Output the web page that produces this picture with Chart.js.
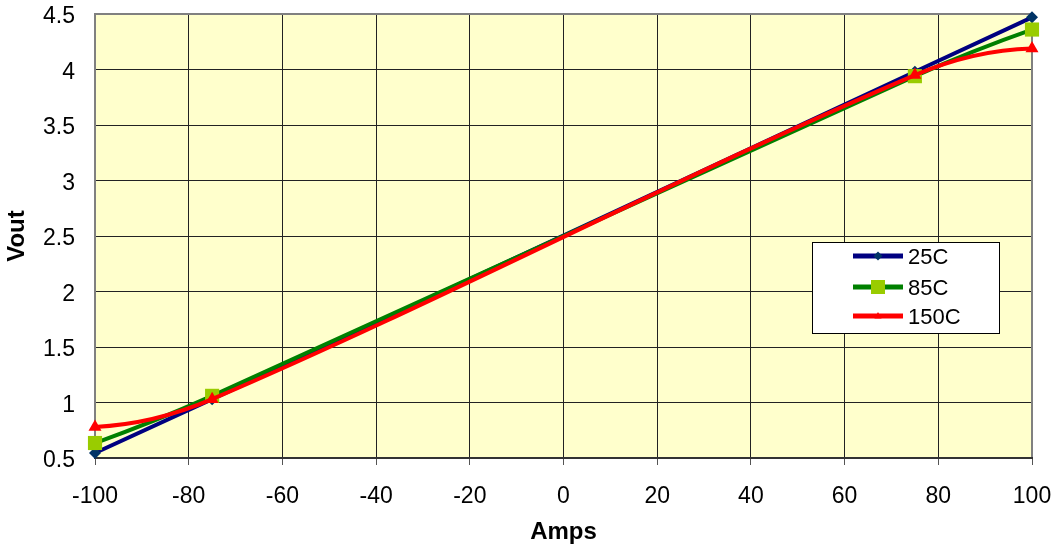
<!DOCTYPE html>
<html>
<head>
<meta charset="utf-8">
<script src="https://cdn.jsdelivr.net/npm/chart.js@4.4.1/dist/chart.umd.min.js"></script>
<style>
  html, body { margin: 0; padding: 0; background: #ffffff; }
  #wrap { width: 1055px; height: 548px; position: relative; }
</style>
</head>
<body>
<div id="wrap"><canvas id="c" width="1055" height="548"></canvas></div>
<script>
// ---- data ----
const amps = [-100, -75, 75, 100];
const vout25 = [0.545, 1.03, 3.98, 4.47];
const vout85 = [0.635, 1.06, 3.94, 4.36];
const vout150 = [0.78, 1.03, 3.95, 4.19];
const seriesLabels = ['25C', '85C', '150C'];
const xTickLabels = ['-100', '-80', '-60', '-40', '-20', '0', '20', '40', '60', '80', '100'];
const yTickLabels = ['0.5', '1', '1.5', '2', '2.5', '3', '3.5', '4', '4.5'];

function pts(xs, ys) { return xs.map((x, i) => ({ x: x, y: ys[i] })); }

const FONT = 'Arial, "Liberation Sans", sans-serif';
Chart.defaults.font.family = FONT;
Chart.defaults.color = '#000';

function drawMarker(ctx, style, x, y, r, fill) {
  ctx.save();
  ctx.fillStyle = fill;
  ctx.beginPath();
  if (style === 'rectRot') {
    ctx.moveTo(x, y - r); ctx.lineTo(x + r, y); ctx.lineTo(x, y + r); ctx.lineTo(x - r, y);
  } else if (style === 'rect') {
    ctx.rect(x - r, y - r, 2 * r, 2 * r);
  } else {
    ctx.moveTo(x, y - r); ctx.lineTo(x + r * 0.9, y + r * 0.6); ctx.lineTo(x - r * 0.9, y + r * 0.6);
  }
  ctx.closePath();
  ctx.fill();
  ctx.restore();
}

// Excel-like smoothing: cardinal tangents in x, end tangents mirrored
const smoothLine = {
  id: 'smoothLine',
  beforeDatasetDraw(chart, args) {
    try {
      const meta = args.meta;
      const p = meta.data;
      const n = p.length;
      if (n < 3) return;
      const m = new Array(n);
      for (let i = 1; i < n - 1; i++) {
        m[i] = (p[i + 1].y - p[i - 1].y) / (p[i + 1].x - p[i - 1].x);
      }
      const s0 = (p[1].y - p[0].y) / (p[1].x - p[0].x);
      const sn = (p[n - 1].y - p[n - 2].y) / (p[n - 1].x - p[n - 2].x);
      m[0] = 2 * s0 - m[1];
      m[n - 1] = 2 * sn - m[n - 2];
      for (let i = 0; i < n; i++) {
        const hPrev = i > 0 ? (p[i].x - p[i - 1].x) / 3 : 0;
        const hNext = i < n - 1 ? (p[i + 1].x - p[i].x) / 3 : 0;
        p[i].cp1x = p[i].x - hPrev; p[i].cp1y = p[i].y - m[i] * hPrev;
        p[i].cp2x = p[i].x + hNext; p[i].cp2y = p[i].y + m[i] * hNext;
      }
      meta.dataset._pointsUpdated = true;
      meta.dataset._path = undefined;
    } catch (e) { /* fall back to default curve */ }
  }
};

const plotBg = {
  id: 'plotBg',
  beforeDraw(chart) {
    const { ctx, chartArea: a } = chart;
    ctx.save();
    ctx.fillStyle = '#FFFFCC';
    ctx.fillRect(a.left, a.top, a.right - a.left, a.bottom - a.top);
    ctx.restore();
  },
  beforeDatasetsDraw(chart) {
    const { ctx, chartArea: a } = chart;
    ctx.save();
    ctx.strokeStyle = '#808080';
    ctx.lineWidth = 2;
    ctx.beginPath();
    ctx.moveTo(a.left, a.bottom); ctx.lineTo(a.left, a.top); ctx.lineTo(a.right, a.top); ctx.lineTo(a.right, a.bottom);
    ctx.stroke();
    ctx.strokeStyle = '#333333';
    ctx.beginPath();
    ctx.moveTo(a.left - 1, a.bottom); ctx.lineTo(a.right + 1, a.bottom);
    ctx.stroke();
    ctx.restore();
  }
};

const boxLegend = {
  id: 'boxLegend',
  afterDraw(chart) {
    const { ctx, chartArea: a } = chart;
    const bx = a.right - 220, by = a.top + 228, bw = 187, bh = 91;
    ctx.save();
    ctx.fillStyle = '#fff';
    ctx.fillRect(bx, by, bw, bh);
    ctx.strokeStyle = '#000';
    ctx.lineWidth = 1;
    ctx.strokeRect(bx + 0.5, by + 0.5, bw, bh);
    const rows = [14, 45, 74];
    const markerR = [4.5, 7, 4];
    chart.data.datasets.forEach((ds, i) => {
      const yy = by + rows[i];
      ctx.strokeStyle = ds.borderColor;
      ctx.lineWidth = 5;
      ctx.beginPath();
      ctx.moveTo(bx + 41, yy); ctx.lineTo(bx + 91, yy);
      ctx.stroke();
      drawMarker(ctx, ds.pointStyle, bx + 66, yy, markerR[i], ds.pointBackgroundColor);
      ctx.fillStyle = '#000';
      ctx.font = '22px ' + FONT;
      ctx.textBaseline = 'middle';
      ctx.textAlign = 'left';
      ctx.fillText(ds.label, bx + 96, yy + 2);
    });
    ctx.restore();
  }
};

function zeroPad(s) { s.paddingTop = 0; s.paddingBottom = 0; s.paddingLeft = 0; s.paddingRight = 0; }

new Chart(document.getElementById('c'), {
  type: 'line',
  data: {
    datasets: [
      {
        label: seriesLabels[0], data: pts(amps, vout25),
        borderColor: '#000080', borderWidth: 4,
        pointStyle: 'rectRot', pointRadius: 6, pointBackgroundColor: '#003366', pointBorderColor: '#003366', pointBorderWidth: 0,
        tension: 0.4, order: 2, clip: false
      },
      {
        label: seriesLabels[1], data: pts(amps, vout85),
        borderColor: '#008000', borderWidth: 4,
        pointStyle: 'rect', pointRadius: 10, pointBackgroundColor: '#99CC00', pointBorderColor: '#99CC00', pointBorderWidth: 0,
        tension: 0.4, order: 1, clip: false
      },
      {
        label: seriesLabels[2], data: pts(amps, vout150),
        borderColor: '#FF0000', borderWidth: 4,
        pointStyle: 'triangle', pointRadius: 7.5, pointBackgroundColor: '#FF0000', pointBorderColor: '#FF0000', pointBorderWidth: 0,
        tension: 0.4, order: 0, clip: false
      }
    ]
  },
  options: {
    responsive: false,
    animation: false,
    devicePixelRatio: 1,
    layout: { padding: { top: 14, right: 23, left: 0, bottom: 0 } },
    plugins: { legend: { display: false }, tooltip: { enabled: false } },
    scales: {
      x: {
        type: 'linear', min: -100, max: 100,
        afterFit(s) { s.height = 90; zeroPad(s); },
        ticks: { stepSize: 20, padding: 18, font: { size: 23 }, color: '#000', maxRotation: 0,
          callback: (v, i) => xTickLabels[i] },
        grid: { color: '#222', lineWidth: 1, drawTicks: true, tickLength: 7, tickColor: '#555' },
        border: { display: false },
        title: { display: true, text: 'Amps', font: { size: 24, weight: 'bold' }, color: '#000', padding: { top: 0, bottom: 1 } }
      },
      y: {
        type: 'linear', min: 0.5, max: 4.5,
        afterFit(s) { s.width = 95; zeroPad(s); },
        ticks: { stepSize: 0.5, padding: 20, font: { size: 23 }, color: '#000', labelOffset: 3,
          callback: (v, i) => yTickLabels[i] },
        grid: { color: '#222', lineWidth: 1, drawTicks: false },
        border: { display: false },
        title: { display: true, text: 'Vout', font: { size: 24, weight: 'bold' }, color: '#000', padding: { top: 3, bottom: 0 } }
      }
    }
  },
  plugins: [smoothLine, plotBg, boxLegend]
});
</script>
</body>
</html>
